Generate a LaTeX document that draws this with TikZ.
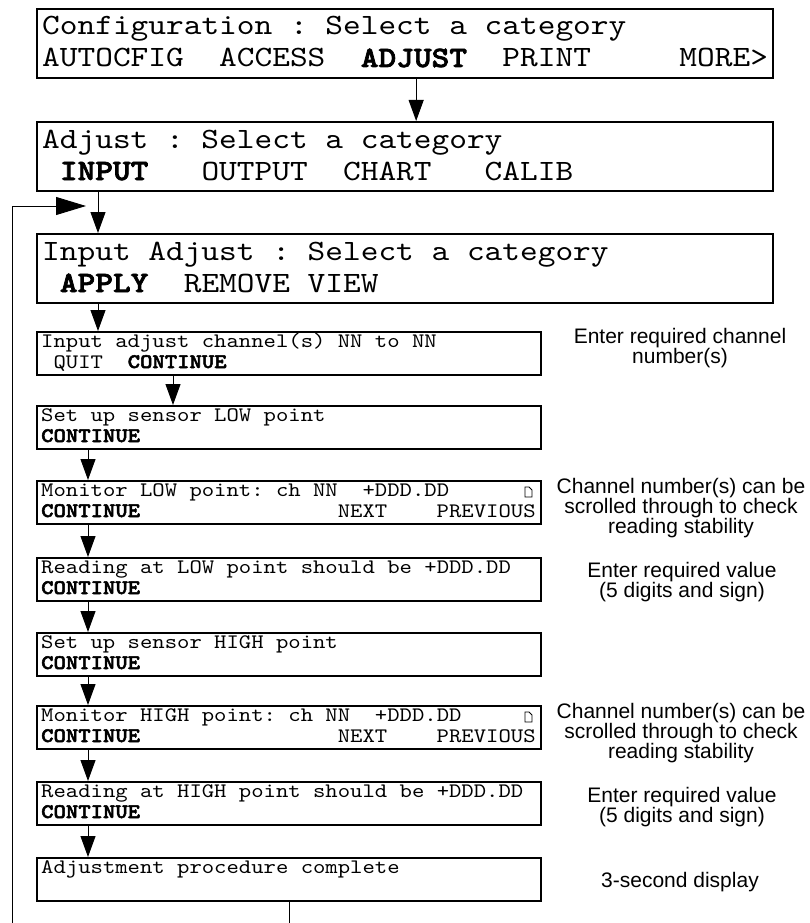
\documentclass[tikz,border=0pt]{standalone}
\usepackage{fontspec}
\setmainfont{Liberation Sans}
\setmonofont{lmmono10-regular.otf}[BoldFont=lmmonolt10-bold.otf, BoldFeatures={FakeBold=2.5}, FakeStretch=1.143]
\usetikzlibrary{arrows.meta}

\newcommand\notefont{\fontsize{21}{20}\selectfont\lineskiplimit=-20pt\relax}

\tikzset{
  bigbox/.style={draw, line width=2.3pt, anchor=north west, inner sep=0pt,
    minimum width=736pt, minimum height=69pt},
  smallbox/.style={draw, line width=2.3pt, anchor=north west, inner sep=0pt,
    minimum width=504pt, minimum height=43pt},
  bigtext/.style={anchor=base west, inner sep=0pt, font=\fontsize{29.5}{32}\ttfamily},
  smalltext/.style={anchor=base west, inner sep=0pt, font=\fontsize{20.6}{21}\ttfamily},
  note/.style={anchor=base, inner sep=0pt, align=center, font=\notefont},
  flow/.style={line width=1pt, -{Triangle[length=21pt,width=15pt]}},
  backflow/.style={line width=0.9pt, -{Triangle[length=30pt,width=18pt]}},
  icon/.style={line width=0.9pt},
}

\begin{document}
\begin{tikzpicture}[x=1pt,y=-1pt]
\useasboundingbox (0,0) rectangle (810,923);

% Configuration menu
\node[bigbox] (config) at (36,8) {};
\node[bigtext] (config-a) at ([shift={(6,27)}]config.north west) {Configuration : Select a category};
\node[bigtext] (config-b) at ([shift={(6,59)}]config.north west) {AUTOCFIG~~ACCESS~~\textbf{ADJUST}~~PRINT~~~~~MORE>};

% Adjust menu
\node[bigbox] (adjust) at (36,121) {};
\node[bigtext] (adjust-a) at ([shift={(6,27)}]adjust.north west) {Adjust : Select a category};
\node[bigtext] (adjust-b) at ([shift={(6,59)}]adjust.north west) {~\textbf{INPUT}~~~OUTPUT~~CHART~~~CALIB};

% Input adjust menu
\node[bigbox] (inputadj) at (36,233) {};
\node[bigtext] (inputadj-a) at ([shift={(6,27)}]inputadj.north west) {Input Adjust : Select a category};
\node[bigtext] (inputadj-b) at ([shift={(6,59)}]inputadj.north west) {~\textbf{APPLY}~~REMOVE~VIEW};

% Adjustment steps
\node[smallbox] (chans) at (36,331) {};
\node[smalltext] (chans-a) at ([shift={(5,16)}]chans.north west) {Input adjust channel(s) NN to NN};
\node[smalltext] (chans-b) at ([shift={(5,37)}]chans.north west) {~QUIT~~\textbf{CONTINUE}};

\node[smallbox] (lowset) at (36,405) {};
\node[smalltext] (lowset-a) at ([shift={(5,16)}]lowset.north west) {Set up sensor LOW point};
\node[smalltext] (lowset-b) at ([shift={(5,37)}]lowset.north west) {\textbf{CONTINUE}};

\node[smallbox] (lowmon) at (36,480) {};
\node[smalltext] (lowmon-a) at ([shift={(5,16)}]lowmon.north west) {Monitor LOW point: ch NN~~+DDD.DD};
\node[smalltext] (lowmon-b) at ([shift={(5,37)}]lowmon.north west) {\textbf{CONTINUE}~~~~~~~~~~~~~~~~NEXT~~~~PREVIOUS};
\draw[icon] ([shift={(489,7)}]lowmon.north west) -- ++(0,10) -- ++(7,0) -- ++(0,-7) -- ++(-3,-3) -- cycle;

\node[smallbox] (lowval) at (36,557) {};
\node[smalltext] (lowval-a) at ([shift={(5,16)}]lowval.north west) {Reading at LOW point should be +DDD.DD};
\node[smalltext] (lowval-b) at ([shift={(5,37)}]lowval.north west) {\textbf{CONTINUE}};

\node[smallbox] (highset) at (36,632) {};
\node[smalltext] (highset-a) at ([shift={(5,16)}]highset.north west) {Set up sensor HIGH point};
\node[smalltext] (highset-b) at ([shift={(5,37)}]highset.north west) {\textbf{CONTINUE}};

\node[smallbox] (highmon) at (36,705) {};
\node[smalltext] (highmon-a) at ([shift={(5,16)}]highmon.north west) {Monitor HIGH point: ch NN~~+DDD.DD};
\node[smalltext] (highmon-b) at ([shift={(5,37)}]highmon.north west) {\textbf{CONTINUE}~~~~~~~~~~~~~~~~NEXT~~~~PREVIOUS};
\draw[icon] ([shift={(489,7)}]highmon.north west) -- ++(0,10) -- ++(7,0) -- ++(0,-7) -- ++(-3,-3) -- cycle;

\node[smallbox] (highval) at (36,781) {};
\node[smalltext] (highval-a) at ([shift={(5,16)}]highval.north west) {Reading at HIGH point should be +DDD.DD};
\node[smalltext] (highval-b) at ([shift={(5,37)}]highval.north west) {\textbf{CONTINUE}};

\node[smallbox] (done) at (36,857) {};
\node[smalltext] (done-a) at ([shift={(5,16)}]done.north west) {Adjustment procedure complete};

% Notes (placed by their last baseline)
\node[note] (note-chans) at (680,363) {Enter required channel\\number(s)};
\node[note] (note-lowmon) at (681,533) {Channel number(s) can be\\scrolled through to check\\reading stability};
\node[note] (note-lowval) at (682,597) {Enter required value\\(5 digits and sign)};
\node[note] (note-highmon) at (681,758) {Channel number(s) can be\\scrolled through to check\\reading stability};
\node[note] (note-highval) at (682,822) {Enter required value\\(5 digits and sign)};
\node[note] (note-done) at (680,887) {3-second display};

% Arrows
\draw[flow] ([xshift=11pt]config.south) -- ([xshift=11pt]adjust.north);
\draw[flow] ([xshift=62pt]adjust.south west) -- ([xshift=62pt]inputadj.north west);
\draw[flow] ([xshift=62pt]inputadj.south west) -- ([xshift=62pt]chans.north west);
\draw[flow] ([xshift=137pt]chans.south west) -- ([xshift=137pt]lowset.north west);
\draw[flow] ([xshift=52pt]lowset.south west) -- ([xshift=52pt]lowmon.north west);
\draw[flow] ([xshift=52pt]lowmon.south west) -- ([xshift=52pt]lowval.north west);
\draw[flow] ([xshift=52pt]lowval.south west) -- ([xshift=52pt]highset.north west);
\draw[flow] ([xshift=52pt]highset.south west) -- ([xshift=52pt]highmon.north west);
\draw[flow] ([xshift=52pt]highmon.south west) -- ([xshift=52pt]highval.north west);
\draw[flow] ([xshift=52pt]highval.south west) -- ([xshift=52pt]done.north west);

% Return path
\coordinate (loopbase) at (12,923);
\coordinate (loopin) at (86,206);
\draw[backflow] (loopbase) |- (loopin);
\coordinate (donebase) at (288,923);
\draw[line width=1pt] (done.south) -- (done.south |- donebase);

\end{tikzpicture}
\end{document}
